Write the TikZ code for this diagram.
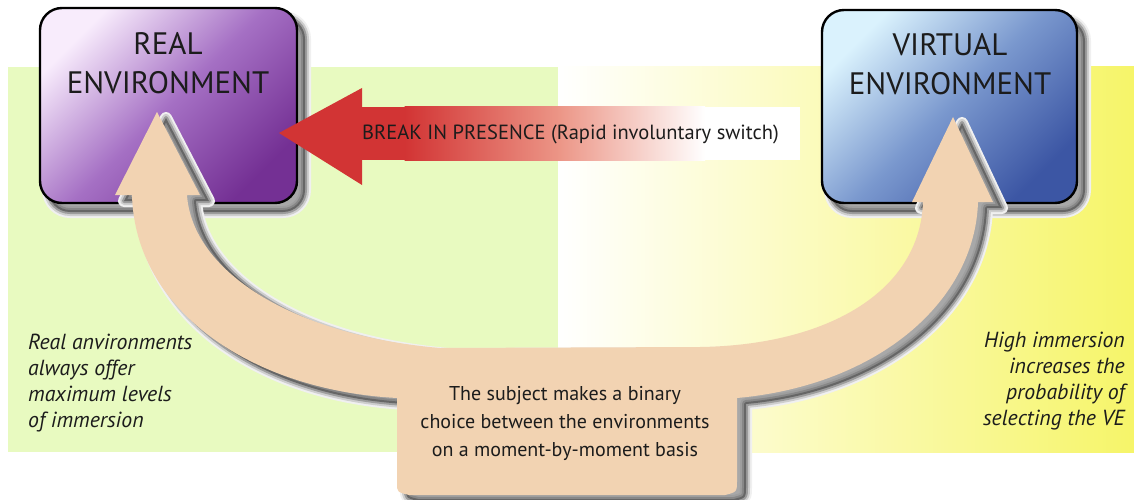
\documentclass[tikz,border=0pt]{standalone}
\usepackage{fontspec}
\setmainfont{PT Sans}
\usetikzlibrary{calc}

\definecolor{panelgreen}{RGB}{232,250,192}
\definecolor{panelyellow}{RGB}{246,245,105}
\definecolor{realtop}{RGB}{248,236,252}
\definecolor{realmid}{RGB}{165,112,196}
\definecolor{realbot}{RGB}{116,48,148}
\definecolor{virttop}{RGB}{218,242,253}
\definecolor{virtmid}{RGB}{122,152,206}
\definecolor{virtbot}{RGB}{60,86,164}
\definecolor{brkred}{RGB}{210,52,52}
\definecolor{brkpink}{RGB}{236,150,135}
\definecolor{beige}{RGB}{242,211,178}
\definecolor{ink}{RGB}{28,28,28}

% soft drop shadow: graded strokes composited with multiply
\newcommand\softshadow[2]{%
  \begin{scope}[blend group=multiply,#1]
    \foreach \w/\g in {12/6,8/14,4/24}{%
      \draw[line width=\w pt,draw=black!\g,line join=round] #2;}
    \fill[black!34] #2;
  \end{scope}}

% the beige two-headed band with its label tab
\def\beigepath{(132,195) -- (115,195) -- (157,112) -- (200,195) -- (187,195)
  .. controls (192,270) and (290,335) .. (440,348)
  -- (700,347)
  .. controls (830,345) and (920,290) .. (923,202)
  -- (912,202) -- (953,117) -- (993,202) -- (978,202)
  .. controls (975,300) and (880,385) .. (737,398)
  -- (737,480) .. controls (737,492) .. (725,495)
  -- (409,495) .. controls (397,492) .. (397,483)
  -- (397,398)
  .. controls (250,390) and (135,310) .. (132,195) -- cycle}

\begin{document}
\begin{tikzpicture}[x=1pt,y=-1pt,
  envbox/.style={draw=black,line width=2.4pt,rounded corners=22pt,
    minimum width=#1,inner sep=0pt},
  boxtitle/.style={font=\fontsize{31}{39}\selectfont,text=ink,align=center,inner sep=0pt},
  note/.style={font=\itshape\fontsize{21.8}{26}\selectfont,text=ink,inner sep=0pt},
  tabtext/.style={font=\fontsize{20}{28}\selectfont,text=ink,align=center,inner sep=0pt},
  ]
\useasboundingbox (0,0) rectangle (1134,500);
\fill[white] (0,0) rectangle (1134,500);

% background panels
\fill[panelgreen] (8,67) rectangle (558,452);
\shade[left color=white,right color=panelyellow] (558,67) rectangle (1134,452);

% box shadows
\softshadow{shift={(8,9)},rounded corners=22pt}{(40,8) rectangle (297,203)}
\softshadow{shift={(8,9)},rounded corners=22pt}{(822,10) rectangle (1077,203)}

% environment boxes
\node[envbox=257pt,minimum height=195pt,top color=realtop,bottom color=realbot,
  middle color=realmid,shading angle=45] (real) at (168.5,105.5) {};
\node[envbox=255pt,minimum height=193pt,top color=virttop,bottom color=virtbot,
  middle color=virtmid,shading angle=45] (virt) at (949.5,106.5) {};
\node[boxtitle] (realtxt) at (168,63) {REAL\\ENVIRONMENT};
\node[boxtitle] (virttxt) at (950,64) {VIRTUAL\\ENVIRONMENT};

% beige band
\softshadow{shift={(9,6)}}{\beigepath}
\fill[beige] \beigepath;

% break-in-presence arrow
\fill[brkred] (279,133) -- (362,88) -- (362,185) -- cycle;
\fill[brkred] (361.5,107) rectangle (405,160);
\shade[left color=brkred,right color=brkpink] (404.5,107) rectangle (560,160);
\shade[left color=brkpink,right color=white] (559.5,107) rectangle (705,160);
\fill[white] (704.5,107) rectangle (800,160);
\node[font=\fontsize{20.5}{24}\selectfont,text=ink,anchor=west,inner sep=0pt]
  (bip) at (362,134) {BREAK IN PRESENCE (Rapid involuntary switch)};

% captions
\node[note,align=left,anchor=north west] (realnote) at (28,334)
  {Real anvironments\\always offer\\maximum levels\\of immersion};
\node[note,align=right,anchor=north east] (virtnote) at (1125,332)
  {High immersion\\increases the\\probability of\\selecting the VE};
\node[tabtext] (choice) at (565,423)
  {The subject makes a binary\\choice between the environments\\on a moment-by-moment basis};
\end{tikzpicture}
\end{document}
